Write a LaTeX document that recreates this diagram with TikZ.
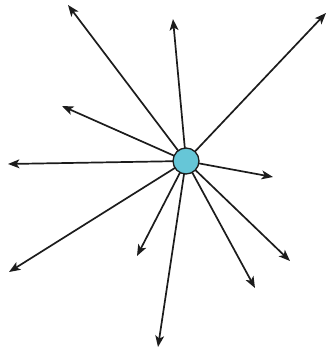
\documentclass[tikz,border=0pt]{standalone}
\usetikzlibrary{arrows.meta,backgrounds}
\definecolor{hubcyan}{HTML}{66C6D7}
\definecolor{rayink}{HTML}{1C1C1C}
\tikzset{
  ray/.style={-{Stealth[length=4mm, width=3.1mm, inset=1mm]}, line width=1.7pt, rayink},
  hub/.style={circle, draw=rayink, line width=1.3pt, fill=hubcyan, minimum size=26pt, inner sep=0pt},
}
\begin{document}
\begin{tikzpicture}[x=1pt, y=-1pt]
  \useasboundingbox (0,0) rectangle (328,351);
  % the hub every ray leaves from
  \node[hub] (h) at (186,161) {};
  % free ends of the rays, clockwise from the top left
  \coordinate (nw)  at (68,5);
  \coordinate (n)   at (173,19);
  \coordinate (ne)  at (326,13);
  \coordinate (e)   at (273,177);
  \coordinate (ese) at (290,261);
  \coordinate (se)  at (255,288);
  \coordinate (s)   at (158,347);
  \coordinate (ssw) at (137,256);
  \coordinate (sw)  at (9,272);
  \coordinate (w)   at (8,164);
  \coordinate (wnw) at (62,106);
  \begin{scope}[on background layer]
    \foreach \t in {nw,n,ne,e,ese,se,s,ssw,sw,w,wnw} \draw[ray] (h.center) -- (\t);
  \end{scope}
\end{tikzpicture}
\end{document}
